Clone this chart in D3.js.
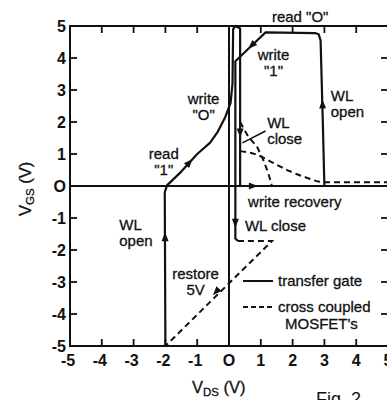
<!DOCTYPE html>
<html lang="en">
<head>
<meta charset="utf-8">
<title>VGS vs VDS</title>
<script src="https://cdnjs.cloudflare.com/ajax/libs/d3/7.8.5/d3.min.js"></script>
<style>
  body { margin: 0; background: #fff; }
  svg { display: block; }
  text { font-family: "Liberation Sans", Arial, sans-serif; fill: #111; }
</style>
</head>
<body>
<div id="chart"></div>
<script>
// axis ticks (volts)
const xTicks = [-5, -4, -3, -2, -1, 0, 1, 2, 3, 4, 5];
const yTicks = [-5, -4, -3, -2, -1, 0, 1, 2, 3, 4, 5];

// transfer gate trajectories, [VDS, VGS]
const gateOpen = [[-2, -5], [-2.02, -0.2], [-1.95, 0.02], [-1.5, 0.45], [-1.0, 1.0], [-0.6, 1.35],
  [-0.35, 1.7], [-0.12, 2.15], [0.05, 2.6], [0.11, 3.2], [0.13, 4.9], [0.2, 5.0], [0.35, 4.92], [0.35, 0]];
const gateRecovery = [[0.35, 0], [3.0, 0]];
const gateWrite1 = [[3.0, 0], [2.95, 2.0], [2.88, 4.55], [2.82, 4.74], [2.7, 4.78], [1.15, 4.8],
  [0.75, 4.42], [0.2, 3.9], [0.2, -1.64], [0.28, -1.72]];

// cross coupled MOSFET's
const crossHigh = [[0.35, 2.0], [0.6, 1.55], [0.88, 1.23], [1.07, 0.83], [1.23, 0.42], [1.35, 0.0]];
const crossLow = [[0.35, 1.09], [0.87, 0.98], [1.39, 0.72], [1.92, 0.46], [2.44, 0.26], [2.97, 0.12], [5, 0.12]];
const crossRestore = [[0.28, -1.72], [1.35, -1.72], [-2, -5]];

// arrow heads: point and direction
const arrows = [
  { at: [-2.01, -1.6], to: [-2.01, -1.0] },
  { at: [-1.25, 0.73], to: [-1.0, 1.0] },
  { at: [0.72, 4.4], to: [0.2, 3.9] },
  { at: [0.35, 1.67], to: [0.35, 1.0] },
  { at: [0.75, 0], to: [1.5, 0] },
  { at: [2.94, 2.55], to: [2.9, 3.5] },
  { at: [0.2, -1.15], to: [0.2, -1.6] },
  { at: [-0.4, -3.3], to: [-2, -5] }
];

const labels = [
  { t: ["read \"O\""], x: 1.35, y: 5.13, a: "start" },
  { t: ["write", "\"1\""], x: 1.4, y: 3.95, a: "middle" },
  { t: ["write", "\"O\""], x: -0.8, y: 2.55, a: "middle" },
  { t: ["WL", "open"], x: 3.2, y: 2.65, a: "start" },
  { t: ["WL", "close"], x: 1.2, y: 1.8, a: "start" },
  { t: ["read", "\"1\""], x: -2.05, y: 0.85, a: "middle" },
  { t: ["write recovery"], x: 0.6, y: -0.67, a: "start" },
  { t: ["WL close"], x: 0.5, y: -1.4, a: "start" },
  { t: ["WL", "open"], x: -3.45, y: -1.37, a: "start" },
  { t: ["restore", "5V"], x: -1.05, y: -2.9, a: "middle" }
];

const legend = [
  { t: ["transfer gate"], dash: null },
  { t: ["cross coupled", "MOSFET's"], dash: "5,3" }
];

const W = 387, H = 400;
const x = d3.scaleLinear().domain([-5, 5]).range([70, 388]);
const y = d3.scaleLinear().domain([-5, 5]).range([346, 26]);

const svg = d3.select("#chart").append("svg")
    .attr("width", W)
    .attr("height", H);

const line = d3.line().x(d => x(d[0])).y(d => y(d[1])).curve(d3.curveLinear);
const smooth = d3.line().x(d => x(d[0])).y(d => y(d[1])).curve(d3.curveMonotoneX);

// frame and zero lines
svg.append("rect")
    .attr("x", x(-5)).attr("y", y(5))
    .attr("width", x(5) - x(-5)).attr("height", y(-5) - y(5))
    .attr("fill", "none").attr("stroke", "#111").attr("stroke-width", 2);
svg.append("line").attr("x1", x(-5)).attr("x2", x(5)).attr("y1", y(0)).attr("y2", y(0))
    .attr("stroke", "#111").attr("stroke-width", 2);
svg.append("line").attr("x1", x(0)).attr("x2", x(0)).attr("y1", y(5)).attr("y2", y(-5))
    .attr("stroke", "#111").attr("stroke-width", 2);

// inward ticks on all four sides
const inner = yTicks.slice(1, -1);
const tk = svg.append("g").attr("stroke", "#111").attr("stroke-width", 1.8);
inner.forEach(v => {
  tk.append("line").attr("x1", x(-5)).attr("x2", x(-5) + 7).attr("y1", y(v)).attr("y2", y(v));
  tk.append("line").attr("x1", x(5)).attr("x2", x(5) - 7).attr("y1", y(v)).attr("y2", y(v));
  tk.append("line").attr("y1", y(-5)).attr("y2", y(-5) - 7).attr("x1", x(v)).attr("x2", x(v));
  tk.append("line").attr("y1", y(5)).attr("y2", y(5) + 7).attr("x1", x(v)).attr("x2", x(v));
});

const fmt = d => d < 0 ? "-" + Math.abs(d) : d === 0 ? "O" : d;

svg.append("g").attr("font-weight", "bold").selectAll("text").data(yTicks).join("text")
    .attr("x", 66).attr("y", d => y(d) + 5.5)
    .attr("text-anchor", "end")
    .attr("font-size", 16)
    .text(fmt);

svg.append("g").attr("font-weight", "bold").selectAll("text").data(xTicks).join("text")
    .attr("x", d => x(d) - (d < 0 ? 2 : 0)).attr("y", 366)
    .attr("text-anchor", "middle")
    .attr("font-size", 16)
    .text(fmt);

// axis titles
const xt = svg.append("text").attr("x", 192).attr("y", 393).attr("font-size", 16.5)
    .attr("stroke", "#111").attr("stroke-width", 0.3);
xt.append("tspan").text("V");
xt.append("tspan").attr("font-size", 11.5).attr("dy", 3).text("DS");
xt.append("tspan").attr("dy", -3).text(" (V)");

const yt = svg.append("text").attr("transform", "translate(31,216) rotate(-90)").attr("font-size", 16.5)
    .attr("stroke", "#111").attr("stroke-width", 0.3);
yt.append("tspan").text("V");
yt.append("tspan").attr("font-size", 11.5).attr("dy", 3).text("GS");
yt.append("tspan").attr("dy", -3).text(" (V)");

// curves
const solid = svg.append("g").attr("fill", "none").attr("stroke", "#111").attr("stroke-width", 2.2)
    .attr("stroke-linejoin", "round");
[gateOpen, gateRecovery, gateWrite1].forEach(p => solid.append("path").attr("d", line(p)));

const dashed = svg.append("g").attr("fill", "none").attr("stroke", "#111").attr("stroke-width", 2)
    .attr("stroke-dasharray", "6,4");
dashed.append("path").attr("d", line(crossHigh));
dashed.append("path").attr("d", smooth(crossLow));
dashed.append("path").attr("d", line(crossRestore));

// leader for upper "WL close"
svg.append("line")
    .attr("x1", x(0.42)).attr("y1", y(1.35)).attr("x2", x(1.15)).attr("y2", y(1.72))
    .attr("stroke", "#111").attr("stroke-width", 1.5);

svg.append("g").selectAll("path").data(arrows).join("path")
    .attr("d", "M5,0 L-4,-3.5 L-4,3.5 Z")
    .attr("fill", "#111")
    .attr("transform", d => {
      const ang = Math.atan2(y(d.to[1]) - y(d.at[1]), x(d.to[0]) - x(d.at[0])) * 180 / Math.PI;
      return `translate(${x(d.at[0])},${y(d.at[1])}) rotate(${ang})`;
    });

// annotations
const ann = svg.append("g").attr("font-size", 15)
    .attr("stroke", "#111").attr("stroke-width", 0.3);
labels.forEach(l => {
  const t = ann.append("text").attr("text-anchor", l.a);
  l.t.forEach((s, i) => t.append("tspan").attr("x", x(l.x)).attr("y", y(l.y) + i * 16).text(s));
});

// legend
const lg = svg.append("g").attr("font-size", 15)
    .attr("stroke", "#111").attr("stroke-width", 0.3);
legend.forEach((d, i) => {
  const ly = 281 + i * 26;
  lg.append("line").attr("x1", 243).attr("x2", 273).attr("y1", ly).attr("y2", ly)
      .attr("stroke-width", 2).attr("stroke-dasharray", d.dash);
  const t = lg.append("text");
  d.t.forEach((s, j) => t.append("tspan").attr("x", j ? 285 : 278).attr("y", ly + 5 + j * 17).text(s));
});

// caption, cut off at the edge of the scan
svg.append("text").attr("x", 316).attr("y", 405).attr("font-size", 18).text("Fig. 2");
</script>
</body>
</html>
